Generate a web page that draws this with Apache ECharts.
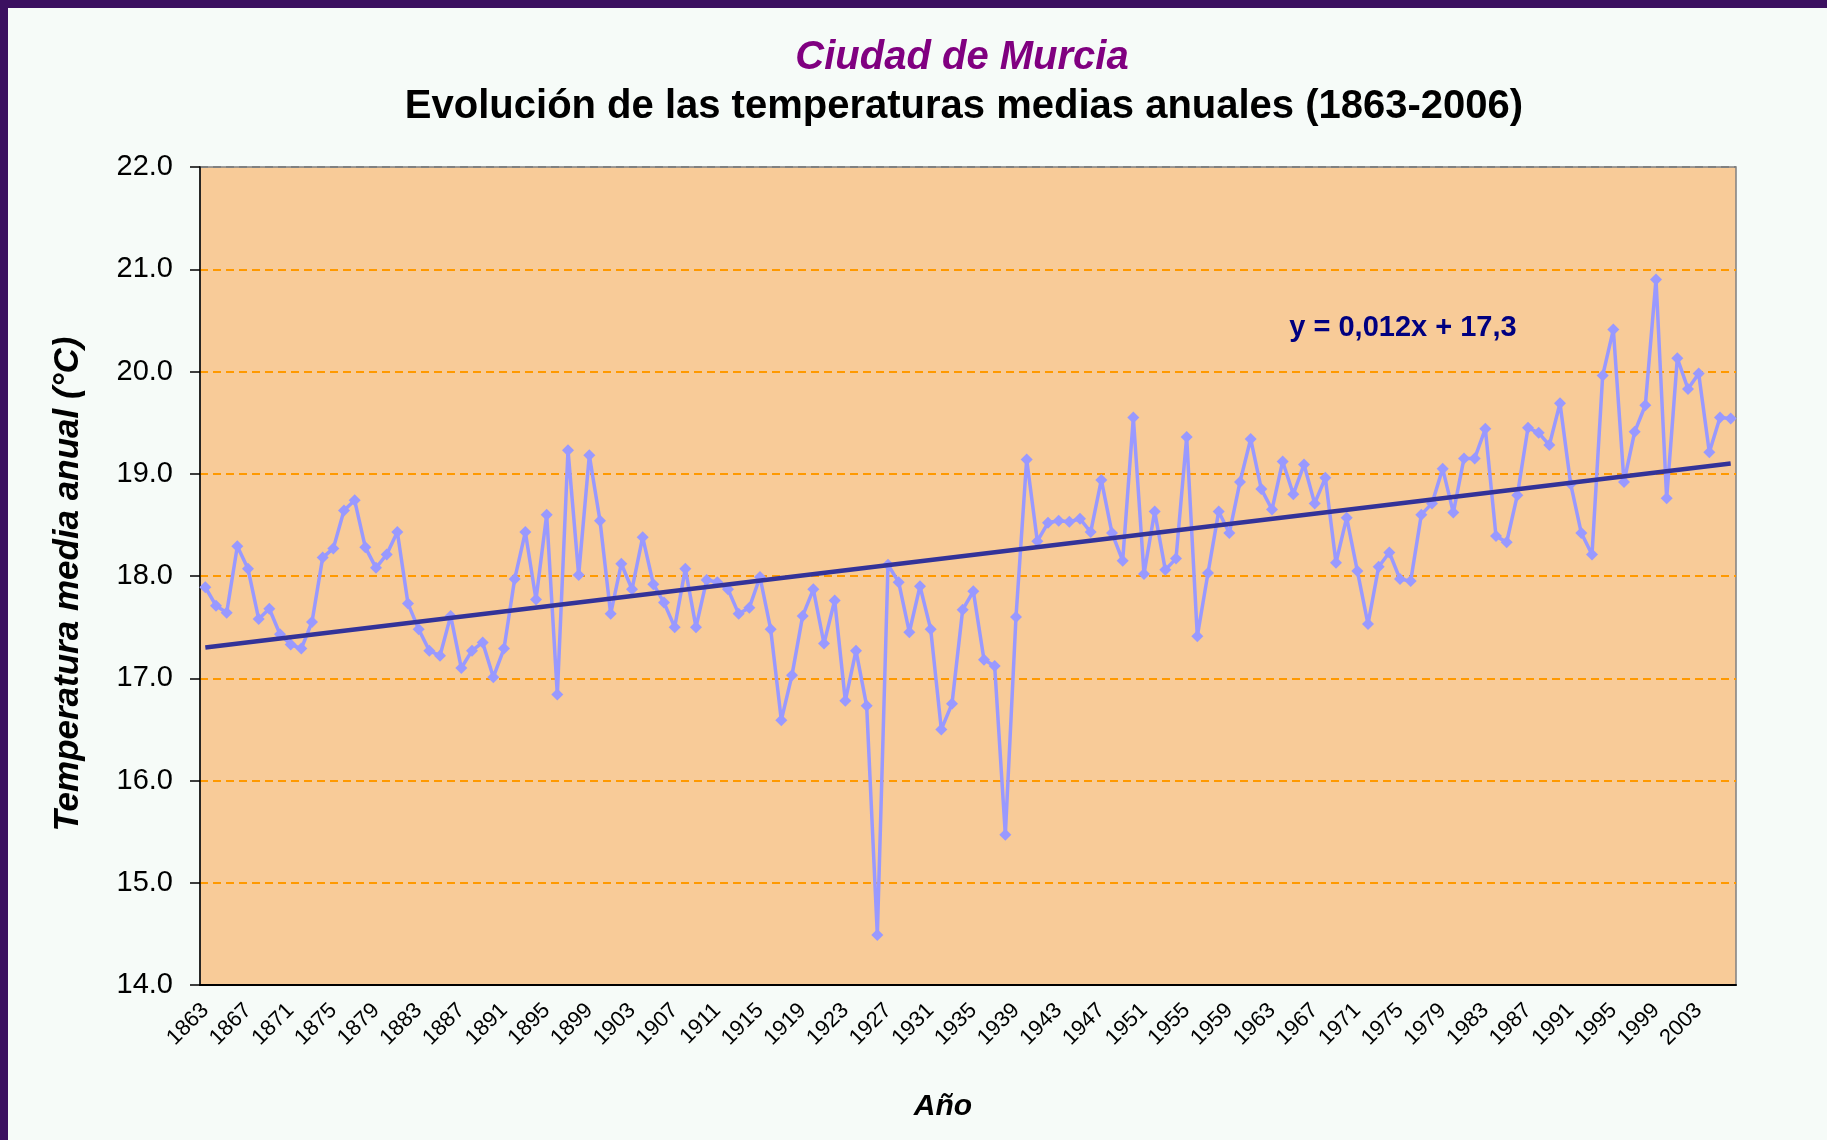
<!DOCTYPE html>
<html>
<head>
<meta charset="utf-8">
<title>Ciudad de Murcia</title>
<script src="https://cdn.jsdelivr.net/npm/echarts@6/dist/echarts.min.js"></script>
<style>
  html, body { margin: 0; padding: 0; background: #3b1060; }
  #chart { position: absolute; left: 8px; top: 8px; width: 1819px; height: 1132px; background: #f6fbf8; }
</style>
</head>
<body>
<div id="chart"></div>
<script>
// years 1863-2006
const firstYear = 1863
const lastYear = 2006
const years = []
for (let y = firstYear; y <= lastYear; y++) years.push(String(y))

// mean annual temperature (ºC), one row per decade
const temps = [
  17.89, 17.71, 17.64, 18.29, 18.07, 17.58, 17.68,                 // 1863-1869
  17.43, 17.33, 17.29, 17.55, 18.18, 18.27, 18.64, 18.74, 18.28, 18.08, // 1870s
  18.21, 18.43, 17.73, 17.48, 17.27, 17.22, 17.61, 17.10, 17.27, 17.35, // 1880s
  17.01, 17.29, 17.97, 18.43, 17.77, 18.60, 16.84, 19.23, 18.01, 19.18, // 1890s
  18.54, 17.63, 18.12, 17.87, 18.38, 17.92, 17.74, 17.50, 18.07, 17.50, // 1900s
  17.96, 17.94, 17.87, 17.63, 17.69, 17.99, 17.48, 16.59, 17.03, 17.61, // 1910s
  17.87, 17.34, 17.76, 16.78, 17.27, 16.73, 14.49, 18.11, 17.94, 17.45, // 1920s
  17.90, 17.48, 16.50, 16.75, 17.67, 17.85, 17.18, 17.12, 15.47, 17.60, // 1930s
  19.14, 18.34, 18.52, 18.54, 18.53, 18.56, 18.43, 18.94, 18.42, 18.15, // 1940s
  19.55, 18.02, 18.63, 18.06, 18.17, 19.36, 17.41, 18.03, 18.63, 18.42, // 1950s
  18.92, 19.34, 18.85, 18.65, 19.12, 18.80, 19.09, 18.71, 18.96, 18.13, // 1960s
  18.57, 18.05, 17.53, 18.09, 18.23, 17.97, 17.95, 18.60, 18.71, 19.05, // 1970s
  18.62, 19.15, 19.15, 19.44, 18.39, 18.33, 18.79, 19.45, 19.40, 19.28, // 1980s
  19.69, 18.90, 18.42, 18.21, 19.96, 20.41, 18.92, 19.41, 19.67, 20.90, // 1990s
  18.76, 20.13, 19.83, 19.98, 19.21, 19.55, 19.54                  // 2000-2006
]

// linear trend as drawn (first and last year)
const trendEnds = [17.3, 19.1]
const trendLabel = 'y = 0,012x + 17,3'

const yTicks = [14, 22, 1] // min, max, step

const trend = years.map((y, i) => {
  if (i === 0) return trendEnds[0]
  if (i === years.length - 1) return trendEnds[1]
  return null
})

const font = '"Liberation Sans", Arial, sans-serif'
const gridColors = ['#000000']
for (let i = 0; i < 7; i++) gridColors.push('#ff9900')
gridColors.push('#808080')

function label(text, x, y, f, color, extra) {
  return Object.assign({
    type: 'text', x: x, y: y,
    style: { text: text, font: f + ' ' + font, fill: color,
      textAlign: 'center', align: 'center', textVerticalAlign: 'middle', verticalAlign: 'middle' }
  }, extra || {})
}

const chart = echarts.init(document.getElementById('chart'))
const option = {
  animation: false,
  textStyle: { fontFamily: font },
  grid: {
    left: 192, right: 91, top: 159, bottom: 155,
    show: true,
    backgroundColor: '#f8cb98',
    borderColor: '#808080',
    borderWidth: 1.5
  },
  graphic: [
    label('Ciudad de Murcia', 954, 50, 'italic bold 40px', '#800080'),
    label('Evolución de las temperaturas medias anuales (1863-2006)', 956, 99, 'bold 40px', '#000000'),
    label('Temperatura media anual (°C)', 60, 576, 'italic bold 35px', '#000000', { rotation: Math.PI / 2 }),
    label('Año', 935, 1099, 'italic bold 30px', '#000000'),
    label(trendLabel, 1395, 320, 'bold 29px', '#000080', { z: 10 })
  ],
  xAxis: {
    type: 'category',
    data: years,
    boundaryGap: true,
    axisLine: { lineStyle: { color: '#000000', width: 2 } },
    axisTick: { show: false },
    axisLabel: { interval: 3, rotate: 45, fontSize: 22, color: '#000000', margin: 22 },
    splitLine: { show: false }
  },
  yAxis: {
    type: 'value',
    min: yTicks[0], max: yTicks[1], interval: yTicks[2],
    axisLine: { show: true, lineStyle: { color: '#000000', width: 1.5 } },
    axisTick: { show: true, length: 10, lineStyle: { color: '#000000', width: 1.5 } },
    axisLabel: { fontSize: 29, color: '#000000', margin: 27, formatter: v => v.toFixed(1) },
    splitLine: { show: true, lineStyle: { color: gridColors, width: 2, type: [8, 5] } }
  },
  series: [
    {
      name: 'temp',
      type: 'line',
      data: temps,
      showAllSymbol: true,
      symbol: 'diamond',
      symbolSize: 12,
      itemStyle: { color: '#9999ff' },
      lineStyle: { color: '#9999ff', width: 3.5 },
      z: 2
    },
    {
      name: 'trend',
      type: 'line',
      data: trend,
      connectNulls: true,
      symbol: 'none',
      lineStyle: { color: '#333399', width: 4.5 },
      z: 3
    }
  ]
}
chart.setOption(option)
</script>
</body>
</html>
